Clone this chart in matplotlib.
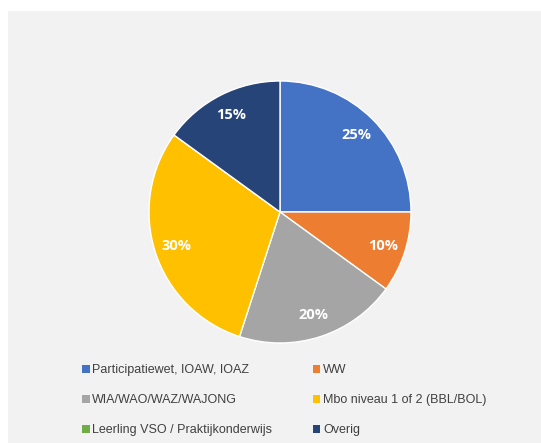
import matplotlib.pyplot as plt
from matplotlib.patches import Patch

# data
categorieen = ['Participatiewet, IOAW, IOAZ', 'WW', 'WIA/WAO/WAZ/WAJONG',
               'Mbo niveau 1 of 2 (BBL/BOL)', 'Leerling VSO / Praktijkonderwijs', 'Overig']
waarden = [25, 10, 20, 30, 0, 15]
kleuren = ['#4472C4', '#ED7D31', '#A5A5A5', '#FFC000', '#70AD47', '#264478']

fig = plt.figure(figsize=(5.41, 4.43), dpi=100)
fig.patch.set_facecolor('white')
# grey chart area
bg = fig.add_axes([8 / 541, 0, 533 / 541, 432 / 443])
bg.set_facecolor('#F2F2F2')
bg.set_xticks([])
bg.set_yticks([])
for s in bg.spines.values():
    s.set_visible(False)

# pie axes: center (280, 212), radius 131 px
r = 131
cx, cy = 280, 212
ax = fig.add_axes([(cx - r) / 541, 1 - (cy + r) / 443, 2 * r / 541, 2 * r / 443])
ax.set_facecolor('none')


def pct_label(p):
    return '' if p < 0.5 else f'{p:.0f}%'


wedges, teksten, pcts = ax.pie(
    waarden, colors=kleuren, startangle=90, counterclock=False,
    autopct=pct_label, pctdistance=0.83,
    wedgeprops=dict(edgecolor='white', linewidth=1),
    textprops=dict(color='white', fontsize=10.5, fontweight='bold', family='Open Sans'))
ax.set_xlim(-1, 1)
ax.set_ylim(-1, 1)
ax.set_aspect('equal')

# legend, 2 columns in row order
handles = [Patch(facecolor=k, edgecolor='none') for k in kleuren]
volgorde = [0, 2, 4, 1, 3, 5]
fig.legend([handles[i] for i in volgorde], [categorieen[i] for i in volgorde],
           ncol=2, loc='upper left', bbox_to_anchor=(71 / 541, 1 - 353 / 443),
           frameon=False, handlelength=0.6, handleheight=0.6, handletextpad=0.2,
           columnspacing=3.25, labelspacing=1.45,
           prop=dict(family='Liberation Sans', size=9), labelcolor='#404040')

fig.savefig('out.png', dpi=100, facecolor='white')
